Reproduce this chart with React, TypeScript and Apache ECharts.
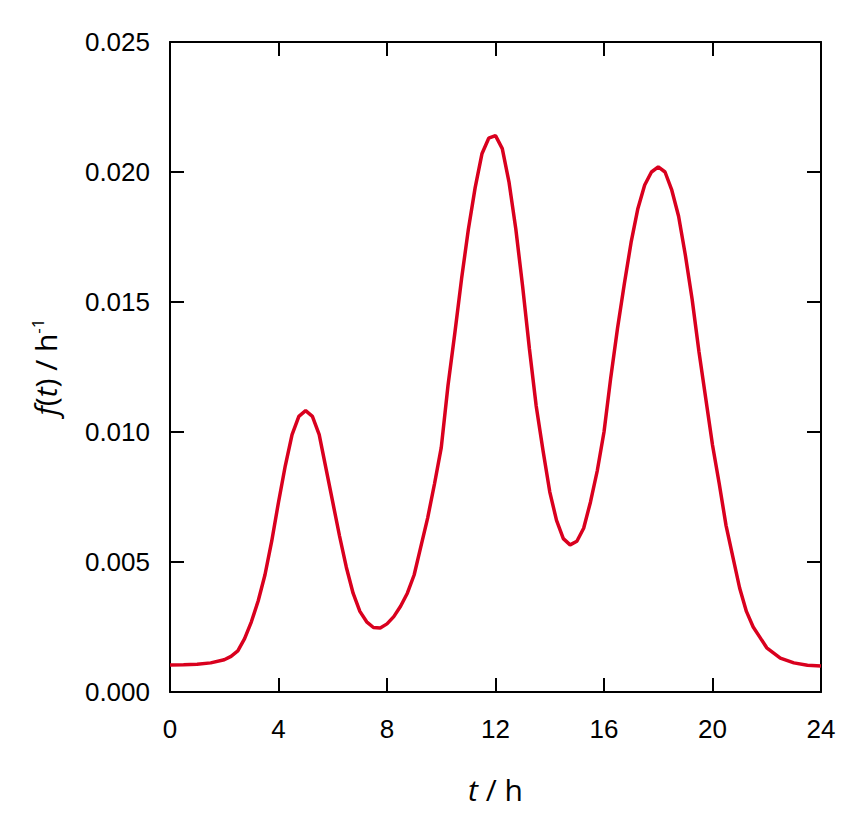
import React, { useEffect, useRef } from "react";
import * as echarts from "echarts";

const hours = [
  0, 0.5, 1, 1.5, 2, 2.25, 2.5, 2.75, 3, 3.25, 3.5, 3.75, 4, 4.25, 4.5, 4.75,
  5, 5.25, 5.5, 5.75, 6, 6.25, 6.5, 6.75, 7, 7.25, 7.5, 7.75, 8, 8.25, 8.5,
  8.75, 9, 9.25, 9.5, 9.75, 10, 10.25, 10.5, 10.75, 11, 11.25, 11.5, 11.75, 12,
  12.25, 12.5, 12.75, 13, 13.25, 13.5, 13.75, 14, 14.25, 14.5, 14.75, 15, 15.25,
  15.5, 15.75, 16, 16.25, 16.5, 16.75, 17, 17.25, 17.5, 17.75, 18, 18.25, 18.5,
  18.75, 19, 19.25, 19.5, 19.75, 20, 20.25, 20.5, 20.75, 21, 21.25, 21.5, 21.75,
  22, 22.5, 23, 23.5, 24,
];

const density = [
  0.00104, 0.00105, 0.00107, 0.00112, 0.00124, 0.00137, 0.00158, 0.00205,
  0.0027, 0.0035, 0.0045, 0.0058, 0.0073, 0.0087, 0.0099, 0.0106, 0.01082,
  0.0106, 0.0099, 0.0086, 0.0073, 0.006, 0.0048, 0.0038, 0.0031, 0.0027,
  0.00248, 0.00246, 0.00262, 0.0029, 0.0033, 0.0038, 0.0045, 0.0056, 0.0067,
  0.008, 0.0094, 0.0118, 0.0138, 0.0159, 0.0178, 0.0194, 0.0207, 0.0213,
  0.0214, 0.0209, 0.0196, 0.0178, 0.0156, 0.0132, 0.011, 0.0093, 0.0077,
  0.0066, 0.0059, 0.00566, 0.0058, 0.0063, 0.0073, 0.0085, 0.01, 0.0121,
  0.014, 0.0157, 0.0173, 0.0186, 0.0195, 0.02, 0.0202, 0.02, 0.0193, 0.0183,
  0.0168, 0.0151, 0.0131, 0.0113, 0.0095, 0.008, 0.0064, 0.0052, 0.004,
  0.0031, 0.0025, 0.0021, 0.0017, 0.0013, 0.00112, 0.00103, 0.001,
];

const xRange = { min: 0, max: 24, step: 4 };
const yRange = { min: 0, max: 0.025, step: 0.005 };

export default function App() {
  const ref = useRef<HTMLDivElement>(null);
  useEffect(() => {
    document.body.style.margin = "0";
    if (!ref.current) return;
    const chart = echarts.init(ref.current, null, { renderer: "svg" });
    const labelFont = "Liberation Sans";
    const nameFont = "Open Sans";
    const axisLine = {
      show: true,
      onZero: false,
      lineStyle: { color: "#000", width: 2 },
    };
    const axisTick = {
      show: true,
      inside: true,
      length: 14,
      lineStyle: { color: "#000", width: 2 },
    };
    chart.setOption({
      animation: false,
      backgroundColor: "#fff",
      grid: { left: 170, right: 45, top: 42, bottom: 131, containLabel: false },
      xAxis: [
        {
          type: "value",
          position: "bottom",
          min: xRange.min,
          max: xRange.max,
          interval: xRange.step,
          axisLine,
          axisTick,
          splitLine: { show: false },
          axisLabel: {
            color: "#000",
            fontFamily: labelFont,
            fontSize: 26,
            margin: 24,
          },
          name: "{i|t} / h",
          nameLocation: "middle",
          nameGap: 82,
          nameTextStyle: {
            color: "#000",
            fontFamily: nameFont,
            fontSize: 30,
            rich: {
              i: {
                fontStyle: "italic",
                fontFamily: nameFont,
                fontSize: 30,
                color: "#000",
              },
            },
          },
        },
        {
          type: "value",
          position: "top",
          min: xRange.min,
          max: xRange.max,
          interval: xRange.step,
          axisLine,
          axisTick,
          splitLine: { show: false },
          axisLabel: { show: false },
        },
      ],
      yAxis: [
        {
          type: "value",
          position: "left",
          min: yRange.min,
          max: yRange.max,
          interval: yRange.step,
          axisLine,
          axisTick,
          splitLine: { show: false },
          axisLabel: {
            color: "#000",
            fontFamily: labelFont,
            fontSize: 26,
            margin: 20,
            formatter: (v: number) => v.toFixed(3),
          },
          name: "{i|f}({i|t}) / h{s|-1}",
          nameLocation: "middle",
          nameRotate: 90,
          nameGap: 108,
          nameTextStyle: {
            color: "#000",
            fontFamily: nameFont,
            fontSize: 30,
            rich: {
              i: {
                fontStyle: "italic",
                fontFamily: nameFont,
                fontSize: 30,
                color: "#000",
              },
              s: {
                fontFamily: nameFont,
                fontSize: 17,
                color: "#000",
                verticalAlign: "top",
                padding: [0, 0, 16, 0],
              },
            },
          },
        },
        {
          type: "value",
          position: "right",
          min: yRange.min,
          max: yRange.max,
          interval: yRange.step,
          axisLine,
          axisTick,
          splitLine: { show: false },
          axisLabel: { show: false },
        },
      ],
      series: [
        {
          type: "line",
          xAxisIndex: 0,
          yAxisIndex: 0,
          data: hours.map((t, i) => [t, density[i]]),
          showSymbol: false,
          symbol: "none",
          lineStyle: { color: "#D9001E", width: 3.5 },
          clip: true,
        },
      ],
    });
    return () => chart.dispose();
  }, []);
  return <div ref={ref} style={{ width: 866, height: 823 }} />;
}
